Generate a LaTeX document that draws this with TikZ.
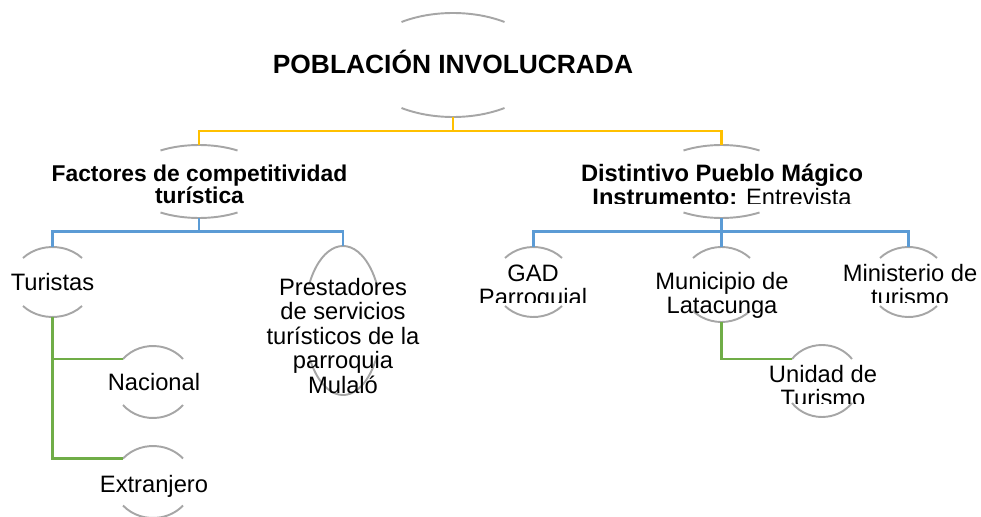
\documentclass[tikz,border=0pt]{standalone}
\usepackage{fontspec}
\setmainfont{Liberation Sans}
\usetikzlibrary{calc}

\definecolor{arcgray}{RGB}{166,166,166}
\definecolor{lvlone}{RGB}{255,192,0}
\definecolor{lvltwo}{RGB}{91,155,213}
\definecolor{lvlthree}{RGB}{112,173,71}

\tikzset{
  caparc/.style={draw=arcgray, line width=1.1pt},
  yellowline/.style={draw=lvlone, line width=1.3pt},
  blueline/.style={draw=lvltwo, line width=1.3pt},
  greenline/.style={draw=lvlthree, line width=1.3pt},
  lbl/.style={anchor=base, inner sep=0pt, align=center,
    font=\fontsize{13.5pt}{13.6pt}\selectfont},
  boldlbl/.style={lbl, font=\fontsize{13.5pt}{13.6pt}\selectfont\bfseries}
}

% name, centre, half width, half height, arc height
\newcommand{\capnode}[5]{%
  \pgfmathsetmacro\capang{asin(1-#5/#4)}%
  \pgfmathsetmacro\caprx{#3/cos(\capang)}%
  \coordinate (#1-c) at (#2);
  \coordinate (#1-up) at ($(#1-c)+(0,#4)$);
  \coordinate (#1-dn) at ($(#1-c)-(0,#4)$);
  \draw[caparc] (#1-c) ++(-#3,{#4-#5}) coordinate (#1-ul)
    arc[start angle={180-\capang}, end angle=\capang, x radius=\caprx, y radius=#4];
  \draw[caparc] (#1-c) ++(-#3,{-#4+#5})
    arc[start angle={180+\capang}, end angle={360-\capang}, x radius=\caprx, y radius=#4];
}

\begin{document}
\begin{tikzpicture}[x=0.02cm,y=0.02cm]
\useasboundingbox (0,0) rectangle (981,-517);

\capnode{pob}{453,-65}{51.5}{52}{9}
\capnode{fac}{199,-181.5}{38.5}{36.5}{5.5}
\capnode{dis}{721.5,-181.5}{38}{36.5}{5.5}
\capnode{tur}{52.5,-282}{29.5}{35}{11}
\capnode{pre}{343,-320.5}{34}{74.5}{39}
\capnode{nac}{153,-382}{30}{36}{13}
\capnode{ext}{153,-482}{30}{36}{12.5}
\capnode{gad}{533.5,-282}{28.5}{35}{11}
\capnode{mun}{721.5,-284.5}{28.5}{37.5}{11}
\capnode{min}{908.5,-282}{28.5}{35}{11}
\capnode{uni}{822,-381}{30}{36}{14}

\node[boldlbl, font=\fontsize{15pt}{17pt}\selectfont\bfseries] (pob) at (453,-74) {POBLACIÓN INVOLUCRADA};
\node[boldlbl, font=\fontsize{13pt}{12.8pt}\selectfont\bfseries] (fac) at (199.5,-203.5) {Factores de competitividad\\turística};
\begin{scope}
\clip (560,-150) rectangle (890,-203);
\node[boldlbl] (dis) at (722,-205) {Distintivo Pueblo Mágico\\Instrumento: {\mdseries Entrevista}};
\end{scope}
\node[lbl] (tur) at (52.5,-290) {Turistas};
\node[lbl, font=\fontsize{13.5pt}{13.9pt}\selectfont] (pre) at (343,-393) {Prestadores\\de servicios\\turísticos de la\\parroquia\\Mulaló};
\node[lbl] (nac) at (154,-390) {Nacional};
\node[lbl] (ext) at (154,-492) {Extranjero};
\begin{scope}
\clip (470,-250) rectangle (600,-302);
\node[lbl] (gad) at (533,-305) {GAD\\Parroquial};
\end{scope}
\node[lbl] (mun) at (722,-313.5) {Municipio de\\Latacunga};
\begin{scope}
\clip (835,-250) rectangle (981,-302);
\node[lbl] (min) at (910,-305) {Ministerio de\\turismo};
\end{scope}
\begin{scope}
\clip (760,-350) rectangle (890,-403);
\node[lbl] (uni) at (823,-406) {Unidad de\\Turismo};
\end{scope}

\draw[yellowline] (pob-dn) -- ++(0,-14) -| (fac-up);
\draw[yellowline] (pob-dn) -- ++(0,-14) -| (dis-up);
\draw[blueline] (fac-dn) -- ++(0,-13.5) -| (tur-up);
\draw[blueline] (fac-dn) -- ++(0,-13.5) -| (pre-up);
\draw[blueline] (dis-dn) -- ++(0,-13.5) -| (gad-up);
\draw[blueline] (dis-dn) -- (mun-up);
\draw[blueline] (dis-dn) -- ++(0,-13.5) -| (min-up);
\draw[greenline] (tur-dn) |- (nac-ul);
\draw[greenline] (tur-dn) |- (ext-ul);
\draw[greenline] (mun-dn) |- (uni-ul);
\end{tikzpicture}
\end{document}
